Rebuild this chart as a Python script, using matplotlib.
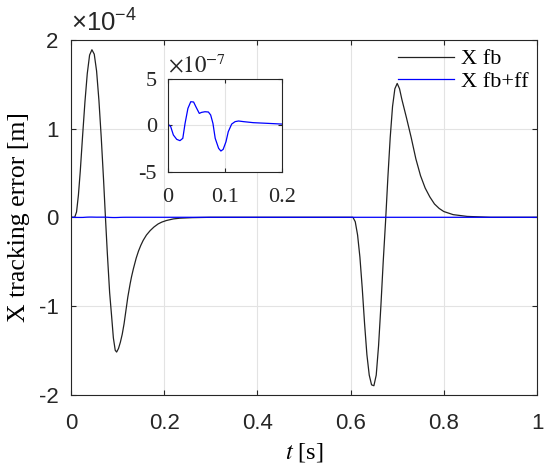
import matplotlib
matplotlib.use("Agg")
import matplotlib.pyplot as plt

plt.rcParams['axes.unicode_minus'] = False
plt.rcParams['mathtext.fontset'] = 'custom'
plt.rcParams['mathtext.rm'] = 'Liberation Sans'
plt.rcParams['mathtext.it'] = 'Liberation Sans:italic'

# ---- data: X fb (units of 1e-4 m) ----
t_fb = [0.000, 0.008, 0.012, 0.016, 0.020, 0.025, 0.030, 0.035, 0.040, 0.045,
        0.050, 0.055, 0.060, 0.065, 0.070, 0.074, 0.078, 0.083, 0.087, 0.091,
        0.095, 0.098, 0.102, 0.106, 0.110, 0.114, 0.118, 0.122, 0.127, 0.130,
        0.134, 0.140, 0.145, 0.150, 0.155, 0.162, 0.170, 0.178, 0.187, 0.195,
        0.205, 0.220, 0.234, 0.260, 0.300,
        0.600, 0.605, 0.610, 0.615, 0.620, 0.625, 0.630, 0.635, 0.640, 0.645,
        0.650, 0.655, 0.660, 0.665, 0.670, 0.675, 0.680, 0.685, 0.690, 0.695,
        0.700, 0.705, 0.710, 0.720, 0.730, 0.740, 0.750, 0.760, 0.770, 0.780,
        0.790, 0.800, 0.820, 0.850, 0.900, 1.000]
x_fb = [0.00, 0.00, 0.06, 0.25, 0.52, 0.92, 1.30, 1.62, 1.83, 1.89,
        1.84, 1.65, 1.32, 0.90, 0.42, 0.00, -0.40, -0.85, -1.10, -1.36,
        -1.50, -1.52, -1.48, -1.41, -1.32, -1.20, -1.05, -0.90, -0.75, -0.67,
        -0.58, -0.46, -0.38, -0.315, -0.26, -0.20, -0.15, -0.11, -0.075, -0.054,
        -0.036, -0.018, -0.010, -0.004, 0.00,
        0.00, 0.00, -0.05, -0.20, -0.45, -0.80, -1.20, -1.55, -1.78, -1.89,
        -1.90, -1.78, -1.45, -1.00, -0.50, -0.05, 0.45, 0.90, 1.25, 1.45,
        1.51, 1.45, 1.33, 1.12, 0.90, 0.66, 0.47, 0.33, 0.23, 0.15,
        0.10, 0.065, 0.03, 0.01, 0.00, 0.00]

# ---- data: X fb+ff (units of 1e-7 m) ----
t_ff = [0.000, 0.0047, 0.0094, 0.0153, 0.021, 0.026, 0.030, 0.035, 0.040, 0.045,
        0.049, 0.055, 0.059, 0.065, 0.071, 0.075, 0.079, 0.083, 0.089, 0.093,
        0.097, 0.102, 0.106, 0.112, 0.118, 0.124, 0.133, 0.150, 0.174, 0.200,
        0.250, 0.300, 0.600, 1.000]
x_ff = [0.14, -0.14, -1.04, -1.51, -1.65, -1.40, 0.22, 1.83, 2.55, 2.52,
        2.01, 1.29, 1.40, 1.47, 1.44, 1.12, 0.22, -1.40, -2.48, -2.77,
        -2.59, -1.76, -0.68, 0.14, 0.40, 0.47, 0.40, 0.29, 0.22, 0.14,
        0.10, 0.05, 0.05, 0.00]

x_ticks = [0, 0.2, 0.4, 0.6, 0.8, 1]
x_ticklabels = ['0', '0.2', '0.4', '0.6', '0.8', '1']
y_ticks = [-2, -1, 0, 1, 2]
in_xticks = [0, 0.1, 0.2]
in_xticklabels = ['0', '0.1', '0.2']
in_yticks = [-5, 0, 5]

spine_c = '#262626'
grid_c = '#e3e3e3'

fig = plt.figure(figsize=(5.5, 4.76), dpi=100)
ax = fig.add_axes([0.129, 0.171, 0.8474, 0.745])
ax.plot(t_fb, x_fb, color='#222222', lw=0.9, label='X fb')
ax.plot(t_ff, [v * 1e-3 for v in x_ff], color='#0000ff', lw=0.9, label='X fb+ff')
ax.set_xlim(0, 1)
ax.set_ylim(-2, 2)
ax.set_xticks(x_ticks)
ax.set_xticklabels(x_ticklabels)
ax.set_yticks(y_ticks)
ax.grid(True, color=grid_c, lw=0.8)
ax.set_axisbelow(True)
for s in ax.spines.values():
    s.set_color(spine_c)
    s.set_linewidth(0.8)
ax.tick_params(direction='in', top=True, right=True, length=3.5, width=0.8,
               color=spine_c, labelsize=16, labelcolor='#262626')
ax.tick_params(axis='x', pad=13)
ax.tick_params(axis='y', pad=9)
for lab in ax.get_xticklabels() + ax.get_yticklabels():
    lab.set_family('Liberation Sans')
ax.set_xlabel(r'$t$ [s]', family='Liberation Serif', fontsize=17.5,
              math_fontfamily='stix', labelpad=5)
ax.set_ylabel('X tracking error [m]', family='Liberation Serif', fontsize=18.5,
              labelpad=6)
ax.text(0.0, 1.008, r'$\times10^{-4}$', transform=ax.transAxes, fontsize=18.5,
        color='#262626', ha='left', va='bottom')
leg = ax.legend(loc='upper right', frameon=False, borderaxespad=0, borderpad=0.4,
                handlelength=2.5, handletextpad=0.3, labelspacing=0.1,
                prop={'family': 'Liberation Serif', 'size': 16})

# ---- inset ----
ins = fig.add_axes([0.3055, 0.6393, 0.2067, 0.1947])
ins.set_facecolor('white')
ins.plot(t_ff, x_ff, color='#0000ff', lw=0.9)
ins.set_xlim(0, 0.2)
ins.set_ylim(-5, 5)
ins.set_xticks(in_xticks)
ins.set_xticklabels(in_xticklabels)
ins.set_yticks(in_yticks)
ins.grid(True, color=grid_c, lw=0.8)
ins.set_axisbelow(True)
for s in ins.spines.values():
    s.set_color(spine_c)
    s.set_linewidth(0.8)
ins.tick_params(direction='in', top=True, right=True, length=3, width=0.8,
                color=spine_c, labelsize=16, labelcolor='#262626')
ins.tick_params(axis='x', pad=12)
ins.tick_params(axis='y', pad=8)
for lab in ins.get_xticklabels() + ins.get_yticklabels():
    lab.set_family('Liberation Serif')
ins.text(0.0, 1.02, r'$\times10^{-7}$', transform=ins.transAxes, fontsize=16.5,
         color='#262626', ha='left', va='bottom', math_fontfamily='stix')

fig.savefig('out.png', dpi=100)
